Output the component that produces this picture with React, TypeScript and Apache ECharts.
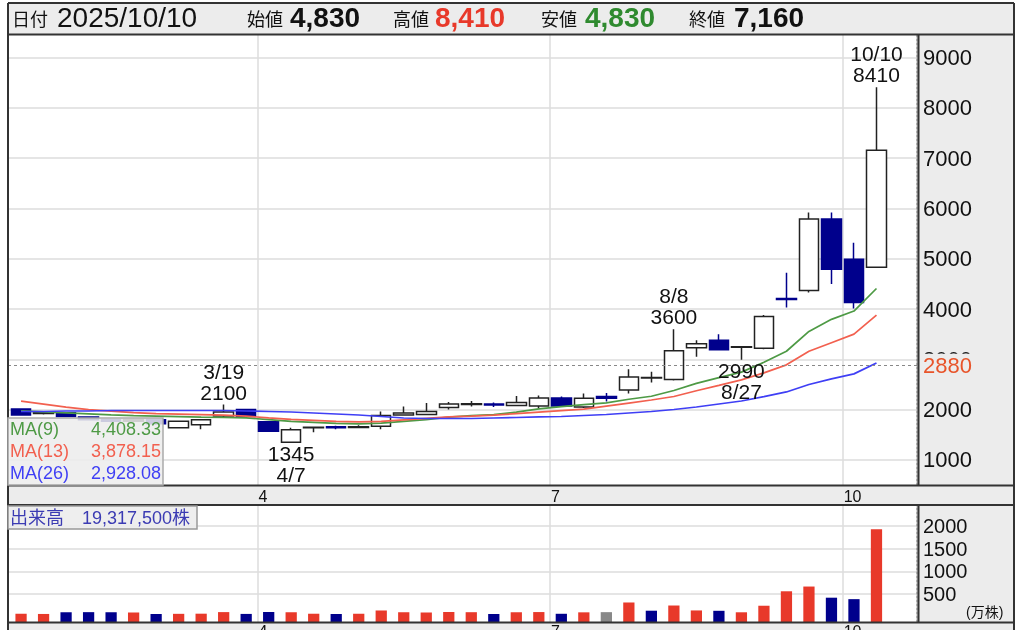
import React, { useEffect, useRef } from 'react';
import * as echarts from 'echarts';

// ---- data (weekly candles, week-ending dates) ----
const weekDates = [
  '2025/01/17', '2025/01/24', '2025/01/31', '2025/02/07', '2025/02/14', '2025/02/21', '2025/02/28',
  '2025/03/07', '2025/03/14', '2025/03/21', '2025/03/28', '2025/04/04', '2025/04/11', '2025/04/18',
  '2025/04/25', '2025/05/02', '2025/05/09', '2025/05/16', '2025/05/23', '2025/05/30', '2025/06/06',
  '2025/06/13', '2025/06/20', '2025/06/27', '2025/07/04', '2025/07/11', '2025/07/18', '2025/07/25',
  '2025/08/01', '2025/08/08', '2025/08/15', '2025/08/22', '2025/08/29', '2025/09/05', '2025/09/12',
  '2025/09/19', '2025/09/26', '2025/10/03', '2025/10/10',
];
const opens = [2010, 1920, 1935, 1850, 1800, 1770, 1800, 1640, 1700, 1870, 2000, 1760, 1350, 1640, 1660, 1645, 1670, 1890, 1900, 2040, 2100, 2110, 2080, 2070, 2230, 2050, 2260, 2390, 2630, 2600, 3230, 3380, 3240, 3220, 4210, 4370, 5790, 4990, 4830];
const closes = [1890, 1935, 1860, 1800, 1770, 1800, 1720, 1770, 1800, 1950, 1860, 1570, 1600, 1650, 1640, 1660, 1880, 1930, 1960, 2110, 2115, 2090, 2140, 2230, 2070, 2225, 2225, 2650, 2640, 3170, 3310, 3190, 3250, 3850, 4190, 5790, 4790, 4130, 7160];
const lows = [1880, 1900, 1850, 1790, 1750, 1760, 1700, 1630, 1610, 1850, 1850, 1560, 1345, 1550, 1610, 1640, 1610, 1880, 1890, 2000, 2060, 2050, 2070, 2030, 2060, 2030, 2160, 2320, 2540, 2580, 3050, 3180, 2990, 3200, 4030, 4330, 4500, 4010, 4830];
const highs = [2020, 1960, 1945, 1860, 1820, 1820, 1810, 1780, 1810, 2100, 2010, 1770, 1640, 1660, 1680, 1690, 1960, 2060, 2130, 2150, 2170, 2140, 2270, 2280, 2260, 2320, 2330, 2800, 2750, 3600, 3380, 3500, 3260, 3880, 4720, 5920, 5920, 5320, 8410];
const prevWeekClose = 1850; // close of the week before the first one shown
// volume in 万株
const volumes = [62, 58, 95, 98, 96, 92, 57, 61, 64, 99, 59, 101, 94, 63, 56, 60, 135, 96, 93, 99, 97, 58, 95, 100, 62, 94, 98, 312, 130, 245, 136, 128, 95, 240, 560, 665, 418, 386, 1931.75];
const ma9 = [1975, 1955, 1935, 1915, 1895, 1880, 1870, 1860, 1850, 1845, 1835, 1800, 1765, 1745, 1725, 1715, 1730, 1765, 1800, 1850, 1880, 1900, 1950, 2015, 2060, 2100, 2135, 2205, 2265, 2380, 2520, 2635, 2745, 2940, 3160, 3555, 3795, 3960, 4408.33];
const ma13 = [2170, 2110, 2050, 2000, 1970, 1940, 1920, 1910, 1900, 1890, 1870, 1835, 1805, 1785, 1765, 1755, 1765, 1795, 1825, 1855, 1870, 1890, 1920, 1950, 1980, 2010, 2070, 2130, 2190, 2260, 2375, 2480, 2590, 2730, 2890, 3160, 3330, 3500, 3878.15];
const ma26 = [1962, 1962, 1972, 1972, 1982, 1982, 1982, 1982, 1982, 1982, 1972, 1962, 1952, 1932, 1912, 1892, 1862, 1833, 1823, 1823, 1823, 1833, 1843, 1853, 1862, 1882, 1902, 1932, 1962, 2002, 2051, 2111, 2171, 2259, 2351, 2499, 2611, 2710, 2928.08];
const priceTicks = [1000, 2000, 3000, 4000, 5000, 6000, 7000, 8000, 9000];
const volumeTicks = [500, 1000, 1500, 2000];
const refPrice = 2880;
const annotations = [
  { i: 9, date: '3/19', value: 2100, side: 'top' },
  { i: 12, date: '4/7', value: 1345, side: 'bottom' },
  { i: 29, date: '8/8', value: 3600, side: 'top' },
  { i: 32, date: '8/27', value: 2990, side: 'bottom' },
  { i: 38, date: '10/10', value: 8410, side: 'top' },
];

// ---- style ----
const FONT = '"Liberation Sans", Arial, "Noto Sans CJK JP", sans-serif';
const UP_RED = '#e8392a';
const NAVY = '#00008c';
const GREEN_MA = '#4e9a45';
const RED_MA = '#f2604f';
const BLUE_MA = '#3f3ff5';
const GRID_LINE = '#dcdcdc';
const FRAME = '#333';

const X_MIN = -0.58;
const X_MAX = 39.8;
const PRICE_MIN = 500;
const PRICE_MAX = 9450;
const VOL_MIN = -120;
const VOL_MAX = 2470;

function buildOption() {
  const n = weekDates.length;
  const last = n - 1;
  const month = (s: string) => parseInt(s.split('/')[1], 10);
  const bounds: { pos: number; m: number }[] = [];
  for (let i = 1; i < n; i++) {
    const m = month(weekDates[i]);
    if (m !== month(weekDates[i - 1]) && (m - 1) % 3 === 0) bounds.push({ pos: i - 0.5, m });
  }
  const boundPos = bounds.map((b) => b.pos);
  const boundLabel = (v: number) => {
    const b = bounds.find((x) => Math.abs(x.pos - v) < 1e-6);
    return b ? String(b.m) : '';
  };

  const candleData = weekDates.map((_, i) => [i, opens[i], closes[i], lows[i], highs[i]]);
  const volData = volumes.map((v, i) => {
    const pc = i === 0 ? prevWeekClose : closes[i - 1];
    const dir = closes[i] > pc ? 1 : closes[i] < pc ? -1 : 0;
    return [i, v, dir];
  });

  const fmt = (v: number) => v.toLocaleString('en-US');
  const fmt2 = (v: number) => v.toLocaleString('en-US', { minimumFractionDigits: 2, maximumFractionDigits: 2 });

  const xCommon = (gridIndex: number, labelMargin: number) => ({
    gridIndex,
    type: 'value',
    min: X_MIN,
    max: X_MAX,
    axisLine: { show: false, onZero: false },
    axisTick: { show: false, customValues: boundPos },
    axisLabel: {
      customValues: boundPos,
      formatter: (v: number) => boundLabel(v),
      fontSize: 16,
      fontFamily: FONT,
      color: '#111',
      margin: labelMargin,
      align: 'left',
      padding: [0, 0, 0, 1],
    },
    splitLine: { show: true, lineStyle: { color: GRID_LINE, width: 1.5 } },
  });

  const yCommon = (
    gridIndex: number,
    min: number,
    max: number,
    ticks: number[],
    labels: number[],
    size: number,
    withLines: boolean,
  ) => ({
    gridIndex,
    type: 'value',
    position: 'right',
    offset: 0,
    min,
    max,
    axisLine: { show: withLines, onZero: false, lineStyle: { color: '#999', type: [2, 2], width: 1.5 } },
    axisTick: { show: false, customValues: ticks },
    axisLabel: {
      customValues: labels,
      formatter: (v: number) => String(v),
      margin: 6,
      fontSize: size,
      color: '#111',
      fontFamily: FONT,
      hideOverlap: false,
      showMinLabel: true,
      showMaxLabel: true,
    },
    splitLine: { show: withLines, lineStyle: { color: GRID_LINE, width: 1.5 } },
  });

  const text = (t: string, x: number, y: number, size: number, fill: string, extra: any = {}) => ({
    type: 'text',
    z: 60,
    style: {
      text: t,
      x,
      y,
      fill,
      fontSize: size,
      fontFamily: FONT,
      align: 'left',
      verticalAlign: 'middle',
      ...extra,
    },
  });
  const line = (x1: number, y1: number, x2: number, y2: number) => ({
    type: 'line',
    z: 55,
    shape: { x1, y1, x2, y2 },
    style: { stroke: FRAME, lineWidth: 2 },
  });

  const maItems = [
    { name: 'MA(9)', vals: ma9, color: GREEN_MA },
    { name: 'MA(13)', vals: ma13, color: RED_MA },
    { name: 'MA(26)', vals: ma26, color: BLUE_MA },
  ];

  const graphicElements: any[] = [
    { type: 'rect', z: -100, shape: { x: 8, y: 3, width: 1006, height: 640 }, style: { fill: '#ececec' } },
    text('日付', 12, 19.5, 18, '#111'),
    text(weekDates[last], 57, 17, 28, '#111'),
    text('始値', 247, 19.5, 18, '#111'),
    text(fmt(opens[last]), 290, 17, 28, '#111', { fontWeight: 'bold' }),
    text('高値', 393, 19.5, 18, '#111'),
    text(fmt(highs[last]), 435, 17, 28, UP_RED, { fontWeight: 'bold' }),
    text('安値', 541, 19.5, 18, '#111'),
    text(fmt(lows[last]), 585, 17, 28, '#2f8a2f', { fontWeight: 'bold' }),
    text('終値', 689, 19.5, 18, '#111'),
    text(fmt(closes[last]), 734, 17, 28, '#111', { fontWeight: 'bold' }),
    line(8, 3, 1014, 3),
    line(8, 3, 8, 640),
    line(1014, 3, 1014, 640),
    line(8, 34.5, 1014, 34.5),
    line(8, 485.5, 1014, 485.5),
    line(8, 505, 1014, 505),
    line(8, 622.5, 1014, 622.5),
    line(918.5, 35, 918.5, 485),
    line(918.5, 505, 918.5, 622),
    {
      type: 'rect',
      z: 58,
      shape: { x: 8, y: 418, width: 155, height: 67 },
      style: { fill: 'rgba(236,236,236,0.86)', stroke: '#aaa', lineWidth: 1.5 },
    },
    {
      type: 'rect',
      z: 58,
      shape: { x: 8, y: 506, width: 189, height: 23 },
      style: { fill: 'rgba(236,236,236,0.9)', stroke: '#999', lineWidth: 1.5 },
    },
    text('出来高　' + fmt(Math.round(volumes[last] * 10000)) + '株', 10, 518, 18, '#3b3bb3'),
    text('(万株)', 966, 612, 14, '#111'),
  ];
  maItems.forEach((m, k) => {
    const y = 429 + k * 22;
    graphicElements.push(text(m.name, 10, y, 18, m.color));
    graphicElements.push(text(fmt2(m.vals[last]), 161, y, 18, m.color, { align: 'right' }));
  });

  const volLabelsA = volumeTicks.filter((_, k) => k % 2 === 0);
  const volLabelsB = volumeTicks.filter((_, k) => k % 2 === 1);

  return {
    animation: false,
    textStyle: { fontFamily: FONT },
    grid: [
      {
        left: 8, top: 35, width: 909, height: 450, show: true, backgroundColor: '#fff', borderWidth: 0,
        containLabel: false, outerBoundsMode: 'none',
      },
      {
        left: 8, top: 505, width: 909, height: 117, show: true, backgroundColor: '#fff', borderWidth: 0,
        containLabel: false, outerBoundsMode: 'none',
      },
    ],
    xAxis: [xCommon(0, 3), xCommon(1, 1)],
    yAxis: [
      yCommon(0, PRICE_MIN, PRICE_MAX, priceTicks, priceTicks, 22, true),
      yCommon(1, VOL_MIN, VOL_MAX, volumeTicks, volLabelsA, 20, true),
      yCommon(1, VOL_MIN, VOL_MAX, volumeTicks, volLabelsB, 20, false),
    ],
    series: [
      {
        type: 'candlestick',
        xAxisIndex: 0,
        yAxisIndex: 0,
        data: candleData,
        encode: { x: 0, y: [1, 2, 3, 4] },
        barWidth: 20,
        itemStyle: {
          color: '#ffffff',
          color0: NAVY,
          borderColor: '#222',
          borderColor0: NAVY,
          borderColorDoji: '#222',
          borderWidth: 1.5,
        },
        markLine: {
          silent: true,
          symbol: 'none',
          data: [{ yAxis: refPrice }],
          lineStyle: { color: '#888', type: [3, 3], width: 1.2 },
          label: {
            show: true,
            position: 'end',
            distance: 6,
            formatter: String(refPrice),
            color: '#e8542a',
            fontSize: 22,
            fontFamily: FONT,
            backgroundColor: '#ececec',
            padding: [1, 4, 0, 0],
          },
        },
        markPoint: {
          symbol: 'circle',
          symbolSize: 0,
          silent: true,
          data: annotations.map((a) => ({
            coord: [a.i, a.value],
            label: {
              show: true,
              position: a.side,
              distance: a.side === 'top' ? 2 : 0,
              formatter: a.side === 'top' ? `${a.date}\n${a.value}` : `${a.value}\n${a.date}`,
              fontSize: 21,
              lineHeight: 21,
              color: '#111',
              fontFamily: FONT,
            },
          })),
        },
      },
      ...maItems.map((m) => ({
        type: 'line',
        name: m.name,
        xAxisIndex: 0,
        yAxisIndex: 0,
        z: 3,
        data: m.vals.map((v, i) => [i, v]),
        showSymbol: false,
        symbol: 'none',
        lineStyle: { color: m.color, width: 1.7 },
        itemStyle: { color: m.color },
      })),
      {
        type: 'custom',
        xAxisIndex: 1,
        yAxisIndex: 1,
        data: volData,
        encode: { x: 0, y: 1 },
        renderItem: (params: any, api: any) => {
          const top = api.coord([api.value(0), api.value(1)]);
          const cs = params.coordSys;
          const bottom = cs.y + cs.height;
          const w = api.size([1, 0])[0] * 0.5;
          const dir = api.value(2);
          const fill = dir > 0 ? UP_RED : dir < 0 ? NAVY : '#888';
          return {
            type: 'rect',
            shape: { x: top[0] - w / 2, y: top[1], width: w, height: bottom - top[1] },
            style: { fill },
          };
        },
      },
    ],
    graphic: { elements: graphicElements },
  };
}

export default function App() {
  const ref = useRef<HTMLDivElement>(null);
  useEffect(() => {
    if (!ref.current) return;
    const chart = echarts.init(ref.current, null, { renderer: 'svg' });
    chart.setOption(buildOption() as any);
    return () => chart.dispose();
  }, []);
  return <div ref={ref} style={{ position: 'fixed', left: 0, top: 0, width: 1024, height: 630 }} />;
}
